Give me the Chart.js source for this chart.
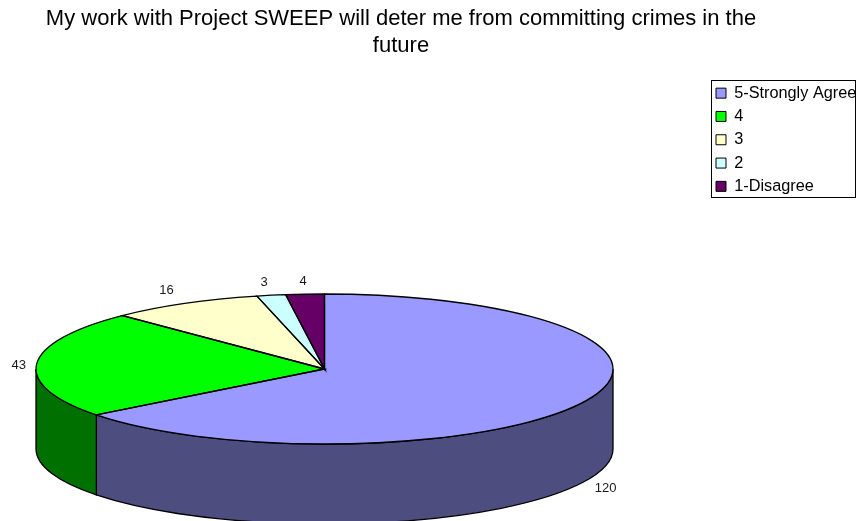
<!DOCTYPE html>
<html>
<head>
<meta charset="utf-8">
<style>
  html, body { margin: 0; padding: 0; background: #fff; }
  canvas { display: block; }
</style>
<script src="https://cdn.jsdelivr.net/npm/chart.js@4/dist/chart.umd.js"></script>
</head>
<body>
<canvas id="chart" width="856" height="521"></canvas>
<script>
const titleLines = ['My work with Project SWEEP will deter me from committing crimes in the', 'future'];
const categories = ['5-Strongly Agree', '4', '3', '2', '1-Disagree'];
const counts = [120, 43, 16, 3, 4];
const topColors = ['#9999FF', '#00FF00', '#FFFFCC', '#CCFFFF', '#660066'];
const wallColors = ['#4D4D80', '#007000', '#808066', '#668080', '#330033'];

// how the flat pie gets tilted
const pieX = 324.5, pieY = 369, radiusX = 288.5, radiusY = 75, depth = 80, baseRadius = 100;
// value label shift from the rim, per slice
const labelShift = [[22, 6], [-18, 1], [-18, -13], [-7, -13], [-2, -13]];
// legend frame
const frameLeft = 711, frameTop = 80, frameBottom = 197;

const tiltPlugin = {
  id: 'tilt',
  afterLayout(chart) {
    chart.titleBlock.right = 802;
    const lg = chart.legend;
    lg.left = 709;
    lg.right = 856;
    lg.top = 78;
    lg.bottom = 521;
  },
  beforeDatasetsDraw(chart) {
    const ctx = chart.ctx;
    const arcs = chart.getDatasetMeta(0).data;
    ctx.lineWidth = 1.3;
    ctx.strokeStyle = '#000';
    // side wall, only the front half of the rim shows
    arcs.forEach((arc, i) => {
      const a = Math.max(arc.startAngle, 0);
      const b = Math.min(arc.endAngle, Math.PI);
      if (a >= b) return;
      ctx.beginPath();
      ctx.ellipse(pieX, pieY, radiusX, radiusY, 0, a, b);
      ctx.ellipse(pieX, pieY + depth, radiusX, radiusY, 0, b, a, true);
      ctx.closePath();
      ctx.fillStyle = wallColors[i];
      ctx.fill();
      ctx.stroke();
    });
    ctx.save();
    const first = arcs[0];
    ctx.translate(pieX, pieY);
    ctx.scale(radiusX / baseRadius, radiusY / baseRadius);
    ctx.translate(-first.x, -first.y);
  },
  afterDatasetsDraw(chart) {
    const ctx = chart.ctx;
    ctx.restore();
    const arcs = chart.getDatasetMeta(0).data;
    ctx.save();
    ctx.lineWidth = 1.3;
    ctx.strokeStyle = '#000';
    arcs.forEach(arc => {
      ctx.beginPath();
      ctx.moveTo(pieX, pieY);
      ctx.ellipse(pieX, pieY, radiusX, radiusY, 0, arc.startAngle, arc.endAngle);
      ctx.closePath();
      ctx.stroke();
    });
    ctx.fillStyle = '#1a1a1a';
    ctx.font = '13px "Liberation Sans"';
    ctx.textAlign = 'center';
    ctx.textBaseline = 'middle';
    arcs.forEach((arc, i) => {
      const mid = (arc.startAngle + arc.endAngle) / 2;
      let x = pieX + Math.cos(mid) * radiusX + labelShift[i][0];
      let y = pieY + Math.sin(mid) * radiusY + labelShift[i][1];
      if (Math.sin(mid) > 0) y += depth;
      ctx.fillText(String(counts[i]), x, y);
    });
    ctx.lineWidth = 1;
    ctx.strokeRect(frameLeft + 0.5, frameTop + 0.5, 856 - frameLeft - 1, frameBottom - frameTop);
    ctx.restore();
  }
};

new Chart(document.querySelector('#chart').getContext('2d'), {
  type: 'pie',
  data: {
    labels: categories,
    datasets: [{
      data: counts,
      backgroundColor: topColors,
      borderWidth: 0,
      clip: false
    }]
  },
  options: {
    responsive: false,
    animation: false,
    radius: baseRadius,
    layout: { padding: 0 },
    plugins: {
      tooltip: { enabled: false },
      title: {
        display: true,
        text: titleLines,
        color: '#000',
        font: { family: '"Liberation Sans"', size: 22, weight: 'normal', lineHeight: 1.23 },
        padding: { top: 5, bottom: 20 }
      },
      legend: {
        position: 'right',
        align: 'start',
        labels: {
          color: '#000',
          font: { family: '"Liberation Sans"', size: 16.3 },
          boxWidth: 10,
          boxHeight: 10,
          padding: 7,
          generateLabels(chart) {
            return Chart.overrides.pie.plugins.legend.labels.generateLabels(chart).map(item => {
              item.strokeStyle = '#000';
              item.lineWidth = 1;
              return item;
            });
          }
        }
      }
    }
  },
  plugins: [tiltPlugin]
});
</script>
</body>
</html>
